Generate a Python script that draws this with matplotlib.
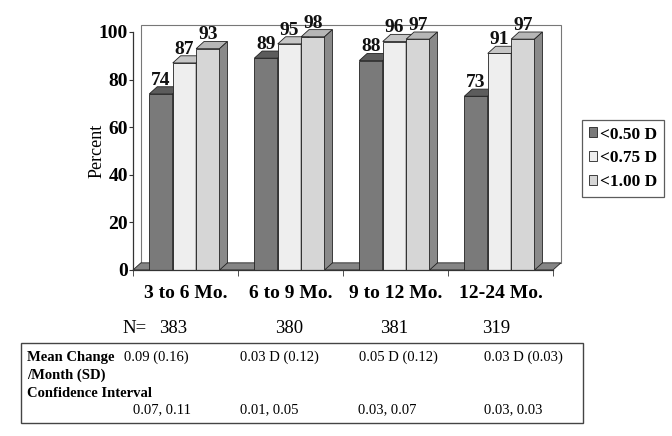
import matplotlib.pyplot as plt
from matplotlib.patches import Polygon, Rectangle, Patch

plt.rcParams['font.family'] = ['Liberation Serif', 'DejaVu Serif']

categories = ["3 to 6 Mo.", "6 to 9 Mo.", "9 to 12 Mo.", "12-24 Mo."]
pct_050 = [74, 89, 88, 73]
pct_075 = [87, 95, 96, 91]
pct_100 = [93, 98, 97, 97]
series_names = ["<0.50 D", "<0.75 D", "<1.00 D"]
n_values = [383, 380, 381, 319]
mean_change = ["0.09 (0.16)", "0.03 D (0.12)", "0.05 D (0.12)", "0.03 D (0.03)"]
conf_int = ["0.07, 0.11", "0.01, 0.05", "0.03, 0.07", "0.03, 0.03"]

W, H = 672, 436
fig = plt.figure(figsize=(W / 100, H / 100), dpi=100)
fig.patch.set_facecolor("white")

# axes placed so that x -0.5..3.5 -> px 133..553, y 0..100 -> px 270..32
ax = fig.add_axes([133 / W, 1 - 270 / H, (553 - 133) / W, (270 - 32) / H])
ax.set_xlim(-0.5, 3.5)
ax.set_ylim(0, 100)
ax.set_facecolor("none")

dx, dy = 0.075, 3.0  # depth offset in data units
edge = "#222222"

# back wall
ax.add_patch(Polygon([(-0.5 + dx, dy), (3.5 + dx, dy), (3.5 + dx, 100 + dy), (-0.5 + dx, 100 + dy)],
                     closed=True, facecolor="white", edgecolor="#777777", lw=0.8, clip_on=False, zorder=0))
# floor
ax.add_patch(Polygon([(-0.5, 0), (3.5, 0), (3.5 + dx, dy), (-0.5 + dx, dy)],
                     closed=True, facecolor="#858585", edgecolor=edge, lw=0.6, clip_on=False, zorder=1))

faces = [
    ("#7a7a7a", "#5c5c5c", "#4c4c4c"),
    ("#eeeeee", "#c6c6c6", "#a8a8a8"),
    ("#d6d6d6", "#b6b6b6", "#8a8a8a"),
]
bw = 0.223
series = [pct_050, pct_075, pct_100]
for i in range(len(categories)):
    for j, vals in enumerate(series):
        h = vals[i]
        x0 = i + (j - 1) * bw - 0.01 - bw / 2
        x1 = x0 + bw
        front, top, side = faces[j]
        z = 2 + j
        ax.add_patch(Polygon([(x0, 0), (x1, 0), (x1, h), (x0, h)], closed=True,
                             facecolor=front, edgecolor=edge, lw=0.6, clip_on=False, zorder=z))
        ax.add_patch(Polygon([(x0, h), (x1, h), (x1 + dx, h + dy), (x0 + dx, h + dy)], closed=True,
                             facecolor=top, edgecolor=edge, lw=0.6, clip_on=False, zorder=z))
        ax.add_patch(Polygon([(x1, 0), (x1 + dx, dy), (x1 + dx, h + dy), (x1, h)], closed=True,
                             facecolor=side, edgecolor=edge, lw=0.6, clip_on=False, zorder=z))
        ax.text((x0 + x1) / 2, h + dy - 0.8, str(h), ha="center", va="bottom",
                fontsize=14, fontweight="bold", color="#111111", zorder=10)

for s in ["top", "right"]:
    ax.spines[s].set_visible(False)
for s in ["left", "bottom"]:
    ax.spines[s].set_color("#333333")
    ax.spines[s].set_linewidth(0.9)
    ax.spines[s].set_zorder(8)

ax.set_yticks([0, 20, 40, 60, 80, 100])
ax.tick_params(axis="y", length=3, pad=0.5, labelsize=14, color="#333333")
for lab in ax.get_yticklabels():
    lab.set_fontweight("bold")
ax.set_xticks(range(len(categories)))
ax.set_xticklabels(categories, fontsize=14, fontweight="bold")
ax.tick_params(axis="x", length=0, pad=11)
ax.set_xticks([-0.5, 0.5, 1.5, 2.5, 3.5], minor=True)
ax.tick_params(axis="x", which="minor", length=4, color="#333333")
ax.set_ylabel("Percent", fontsize=13)
ax.yaxis.set_label_coords((106 - 133) / 420, 0.5)

handles = [Patch(facecolor=faces[k][0], edgecolor=edge, lw=0.6) for k in range(3)]
leg = fig.legend(handles, series_names, loc="upper left", bbox_to_anchor=(582 / W, 1 - 120 / H),
                 frameon=True, fancybox=False, edgecolor="#333333", handlelength=0.5, handleheight=0.5,
                 handletextpad=0.15, borderpad=0.38, labelspacing=0.45, borderaxespad=0,
                 prop={"size": 12.5, "weight": "bold"})
leg.get_frame().set_linewidth(0.9)


def ft(x, y, s, **kw):
    fig.text(x / W, 1 - y / H, s, va="center", **kw)


# N row
ft(122, 328, "N=", fontsize=13.5)
for k, xc in enumerate([173, 289, 394, 496]):
    ft(xc, 328, str(n_values[k]), fontsize=13.5, ha="center")

# table box
fig.patches.append(Rectangle((21 / W, 1 - 423 / H), (583 - 21) / W, (423 - 343) / H,
                             transform=fig.transFigure, facecolor="none", edgecolor="#444444", lw=1.0))
ft(27, 357, "Mean Change", fontsize=10.5, fontweight="bold")
ft(27, 375, "/Month (SD)", fontsize=10.5, fontweight="bold")
ft(27, 393, "Confidence Interval", fontsize=10.5, fontweight="bold")
for k, xs in enumerate([124, 240, 359, 484]):
    ft(xs, 357, mean_change[k], fontsize=10.5)
for k, xs in enumerate([133, 240, 358, 484]):
    ft(xs, 410, conf_int[k], fontsize=10.5)

fig.savefig("out.png", dpi=100)
